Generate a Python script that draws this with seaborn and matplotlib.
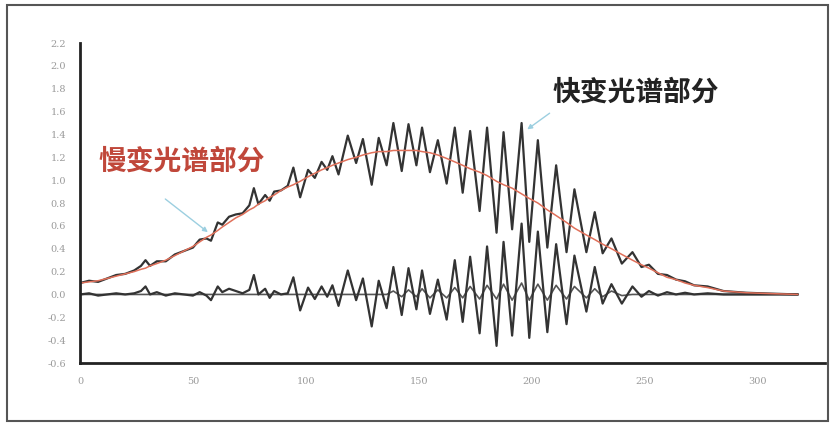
import matplotlib
matplotlib.use('Agg')
import numpy as np
import matplotlib.pyplot as plt
import seaborn as sns
from matplotlib.ticker import MultipleLocator
from matplotlib.patches import Rectangle

# ── Data ────────────────────────────────────────────────────────────────────
# common x grid (extrema of the fast ripple + points in the quiet parts)
x_grid = [0, 4, 8, 12, 16, 20, 24, 27, 29, 31, 34, 38, 42, 46, 50, 53, 56, 58,
          61, 63, 66, 69, 72, 75, 77, 79, 82, 84, 86, 89, 92, 94.5, 97.5, 101,
          104, 107, 109.5, 111.8, 114.5, 118.6, 122.3, 125.3, 129.2, 132.3,
          135.8, 138.8, 142.5, 145.5, 149, 151.5, 155, 158.5, 162.4, 166,
          169.5, 172.8, 177, 180.3, 184.5, 187.6, 191.4, 195.6, 199, 202.8,
          207, 210.9, 215.5, 219, 224.3, 228, 231.5, 235.4, 240, 244.7, 248.7,
          252, 256, 260, 264, 268, 272, 278, 285, 295, 305, 318]

# slowly varying spectrum (red)
slow = [0.10, 0.11, 0.12, 0.14, 0.16, 0.18, 0.20, 0.22, 0.23, 0.25, 0.27, 0.30,
        0.34, 0.38, 0.42, 0.46, 0.50, 0.52, 0.56, 0.59, 0.63, 0.67, 0.70, 0.74,
        0.76, 0.79, 0.82, 0.85, 0.87, 0.91, 0.94, 0.96, 0.99, 1.03, 1.06, 1.09,
        1.11, 1.13, 1.15, 1.18, 1.20, 1.22, 1.24, 1.25, 1.25, 1.26, 1.26, 1.26,
        1.26, 1.25, 1.24, 1.22, 1.19, 1.16, 1.13, 1.10, 1.07, 1.04, 0.99, 0.96,
        0.93, 0.88, 0.84, 0.80, 0.74, 0.69, 0.63, 0.58, 0.52, 0.48, 0.44, 0.40,
        0.35, 0.30, 0.26, 0.23, 0.19, 0.15, 0.13, 0.10, 0.08, 0.06, 0.03, 0.015,
        0.008, 0.0]

# fast varying spectrum (black, around zero)
fast = [0.00, 0.01, -0.01, 0.00, 0.01, 0.00, 0.01, 0.03, 0.07, 0.00, 0.02,
        -0.01, 0.01, 0.00, -0.01, 0.02, -0.01, -0.05, 0.07, 0.02, 0.05, 0.03,
        0.01, 0.04, 0.17, 0.00, 0.05, -0.03, 0.03, 0.00, 0.01, 0.15, -0.14,
        0.06, -0.04, 0.07, -0.02, 0.08, -0.10, 0.21, -0.05, 0.14, -0.28, 0.12,
        -0.12, 0.24, -0.18, 0.23, -0.13, 0.21, -0.17, 0.13, -0.22, 0.30, -0.24,
        0.33, -0.34, 0.42, -0.45, 0.46, -0.36, 0.62, -0.38, 0.55, -0.33, 0.44,
        -0.26, 0.34, -0.15, 0.24, -0.08, 0.09, -0.08, 0.07, -0.02, 0.03, -0.01,
        0.02, 0.00, 0.015, 0.00, 0.01, 0.00, 0.00, 0.00, 0.00]

# small residual ripple near zero
ripple = [0.0] * 45 + [0.03, -0.02, 0.04, -0.02, 0.05, -0.03, 0.04, -0.03,
                       0.06, -0.03, 0.07, -0.04, 0.08, -0.04, 0.09, -0.05,
                       0.10, -0.05, 0.09, -0.05, 0.08, -0.04, 0.07, -0.03,
                       0.05, -0.02, 0.03, -0.01] + [0.0] * 13

x_grid = np.array(x_grid)
slow = np.array(slow)
fast = np.array(fast)
ripple = np.array(ripple)
total = slow + fast

# ── Figure ──────────────────────────────────────────────────────────────────
sns.set_theme(style='white')
plt.rcParams['font.family'] = ['Noto Sans CJK SC', 'DejaVu Sans']
plt.rcParams['axes.unicode_minus'] = False
plt.rcParams['lines.solid_joinstyle'] = 'round'

fig = plt.figure(figsize=(8.32, 4.23), dpi=100)
ax = fig.add_axes([0.0962, 0.1418, 0.8954, 0.7565])

line_kw = dict(estimator=None, sort=False, ax=ax, legend=False)
sns.lineplot(x=x_grid, y=ripple, color='#555555', lw=1.2, **line_kw)
sns.lineplot(x=x_grid, y=fast, color='#333333', lw=1.6, **line_kw)
sns.lineplot(x=x_grid, y=total, color='#333333', lw=1.6, **line_kw)
sns.lineplot(x=x_grid, y=slow, color='#e0705a', lw=1.1, **line_kw)

ax.set_xlim(0, 330)
ax.set_ylim(-0.6, 2.2)
ax.xaxis.set_major_locator(MultipleLocator(50))
ax.xaxis.set_minor_locator(MultipleLocator(25))
ax.yaxis.set_minor_locator(MultipleLocator(0.05))
yticks = np.round(np.arange(-0.6, 2.21, 0.2), 1)
ax.set_yticks(yticks)
ax.set_yticklabels([f'{v:.1f}' for v in yticks])

for s in ['top', 'right']:
    ax.spines[s].set_visible(False)
for s in ['left', 'bottom']:
    ax.spines[s].set_linewidth(2.0)
    ax.spines[s].set_color('#222222')

ax.tick_params(which='major', direction='out', length=4, width=1,
               color='#444444', labelsize=7, labelcolor='#9a9a9a', pad=6)
ax.tick_params(which='minor', direction='out', length=2, width=0.8,
               color='#666666')
for lab in ax.get_xticklabels() + ax.get_yticklabels():
    lab.set_family('DejaVu Serif')
ax.set_xlabel('')
ax.set_ylabel('')

# annotations
ax.annotate('', xy=(57.6, 0.53), xytext=(36.8, 0.85),
            arrowprops=dict(arrowstyle='-|>', color='#9ccfe0', lw=1.0,
                            mutation_scale=7))
ax.text(8, 1.16, '慢变光谱部分', color='#c0473a', fontsize=20,
        fontweight='bold', va='center', ha='left')
ax.annotate('', xy=(197.1, 1.43), xytext=(209, 1.60),
            arrowprops=dict(arrowstyle='-|>', color='#9ccfe0', lw=1.0,
                            mutation_scale=7))
ax.text(209.5, 1.77, '快变光谱部分', color='#222222', fontsize=20,
        fontweight='bold', va='center', ha='left')

# outer frame around the whole picture
fig.patches.append(Rectangle((0.0084, 0.0047), 0.9866, 0.9833,
                             transform=fig.transFigure, fill=False,
                             edgecolor='#555555', lw=1.5))

fig.savefig('out.png', dpi=100)
